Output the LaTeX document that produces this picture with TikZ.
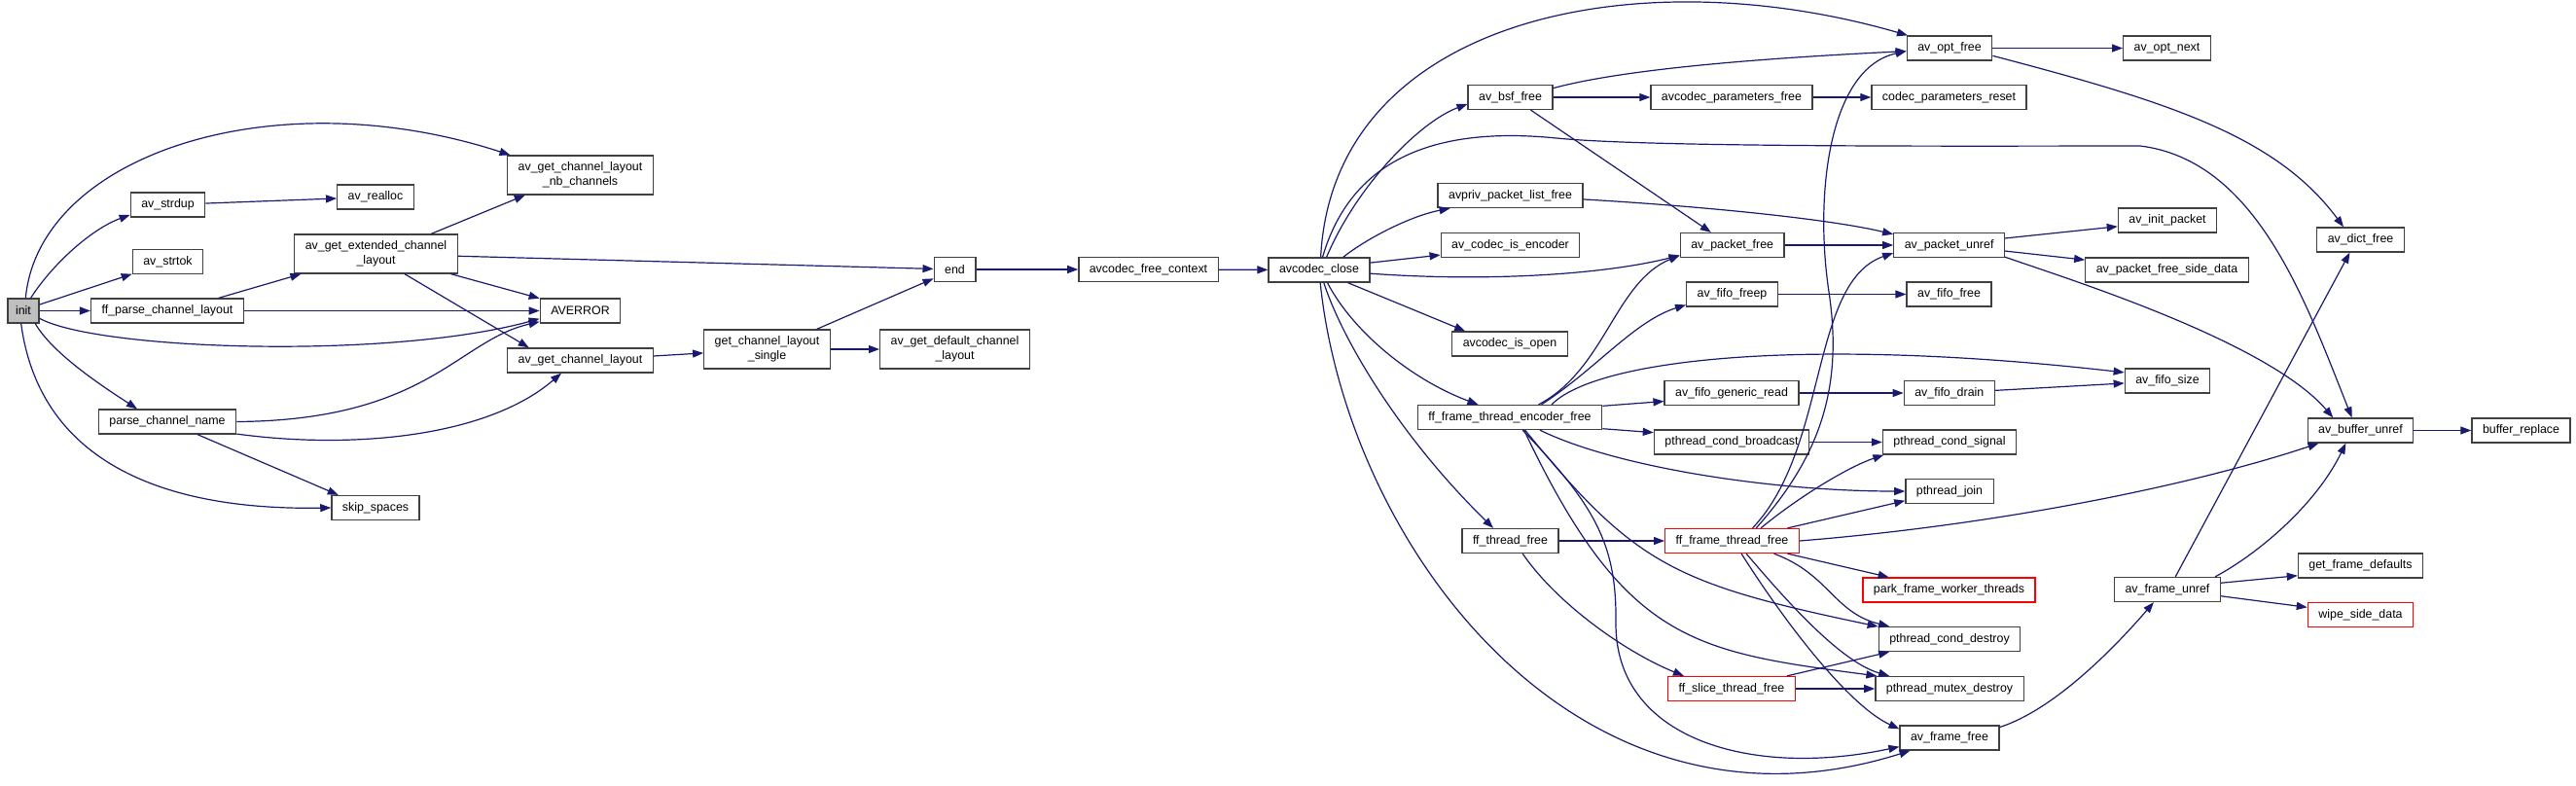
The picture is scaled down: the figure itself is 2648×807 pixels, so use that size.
\documentclass[tikz,border=0pt]{standalone}
\usepackage{fontspec}
\setmainfont{Liberation Sans}
\usetikzlibrary{arrows.meta}
\definecolor{edgeblue}{HTML}{191970}
\definecolor{boxline}{HTML}{404040}
\definecolor{rootgray}{HTML}{BFBFBF}

\begin{document}
\begin{tikzpicture}[
    x=1pt,y=-1pt,
    fn/.style={draw=boxline,line width=1.3pt,fill=white,minimum height=25pt,inner xsep=11pt,inner ysep=1pt,font=\fontsize{12.4}{15}\selectfont},
    fntwo/.style={fn,align=center,minimum height=40pt},
    fnred/.style={fn,draw=red},
    fnroot/.style={fn,fill=rootgray,inner xsep=8pt},
    call/.style={->,draw=edgeblue,line width=1.2pt},
    >={Triangle[length=11pt,width=8pt]}
]
\useasboundingbox (0,0) rectangle (2648,807);

% left part
\node[fnroot] (init) at (24,319.5) {init};
\node[fn] (strdup) at (172.5,210.5) {av\_strdup};
\node[fn] (strtok) at (172.5,269) {av\_strtok};
\node[fn] (parselayout) at (172,319.5) {ff\_parse\_channel\_layout};
\node[fn] (parsename) at (172,433.5) {parse\_channel\_name};
\node[fn] (realloc) at (386,202.5) {av\_realloc};
\node[fntwo] (extlayout) at (386.5,261) {av\_get\_extended\_channel\\\_layout};
\node[fn] (skipspaces) at (386,522) {skip\_spaces};
\node[fntwo] (nbchannels) at (596.5,180) {av\_get\_channel\_layout\\\_nb\_channels};
\node[fn] (averror) at (596.5,319.5) {AVERROR};
\node[fn] (getlayout) at (596.5,370.5) {av\_get\_channel\_layout};
\node[fntwo] (layoutsingle) at (788.5,359) {get\_channel\_layout\\\_single};
\node[fn] (endnode) at (981.5,277) {end};
\node[fntwo] (defaultlayout) at (981.5,359) {av\_get\_default\_channel\\\_layout};
\node[fn] (freecontext) at (1180.5,277) {avcodec\_free\_context};
\node[fn] (codecclose) at (1356,277.5) {avcodec\_close};

% middle part
\node[fn] (bsffree) at (1552.5,100) {av\_bsf\_free};
\node[fn] (pktlistfree) at (1552.5,201) {avpriv\_packet\_list\_free};
\node[fn] (isencoder) at (1552.5,252) {av\_codec\_is\_encoder};
\node[fn] (isopen) at (1552,353.5) {avcodec\_is\_open};
\node[fn] (encfree) at (1552,429) {ff\_frame\_thread\_encoder\_free};
\node[fn] (threadfree) at (1552.5,556) {ff\_thread\_free};
\node[fn] (parfree) at (1780,100) {avcodec\_parameters\_free};
\node[fn] (pktfree) at (1780.7,252) {av\_packet\_free};
\node[fn] (fifofreep) at (1780.5,302.5) {av\_fifo\_freep};
\node[fn] (fiforead) at (1780,404) {av\_fifo\_generic\_read};
\node[fn] (condbcast) at (1780,454.5) {pthread\_cond\_broadcast};
\node[fnred] (framethreadfree) at (1780.5,556) {ff\_frame\_thread\_free};
\node[fnred] (slicefree) at (1780,708) {ff\_slice\_thread\_free};
\node[fn] (optfree) at (2004,49.5) {av\_opt\_free};
\node[fn] (parreset) at (2003.5,100) {codec\_parameters\_reset};
\node[fn] (pktunref) at (2003.6,252) {av\_packet\_unref};
\node[fn] (fifofree) at (2003.5,302.5) {av\_fifo\_free};
\node[fn] (fifodrain) at (2003.8,404) {av\_fifo\_drain};
\node[fn] (condsignal) at (2004,454.5) {pthread\_cond\_signal};
\node[fn] (join) at (2004,505) {pthread\_join};
\node[fnred] (parkworkers) at (2003.5,606.5) {park\_frame\_worker\_threads};
\node[fn] (conddestroy) at (2004,657) {pthread\_cond\_destroy};
\node[fn] (mutexdestroy) at (2004,708) {pthread\_mutex\_destroy};
\node[fn] (framefree) at (2004,758.5) {av\_frame\_free};

% right part
\node[fn] (optnext) at (2227.5,49.5) {av\_opt\_next};
\node[fn] (initpacket) at (2228,226.5) {av\_init\_packet};
\node[fn] (sidedatafree) at (2227.5,277.5) {av\_packet\_free\_side\_data};
\node[fn] (fifosize) at (2228,391.5) {av\_fifo\_size};
\node[fn] (frameunref) at (2228,606) {av\_frame\_unref};
\node[fn] (dictfree) at (2426.5,246.5) {av\_dict\_free};
\node[fn] (bufunref) at (2426.5,442.5) {av\_buffer\_unref};
\node[fn] (framedefaults) at (2426.5,581.5) {get\_frame\_defaults};
\node[fnred] (wipeside) at (2426.5,632) {wipe\_side\_data};
\node[fn] (bufreplace) at (2591.5,442.5) {buffer\_replace};

\draw[call] (init.80) .. controls (40,160) and (280,80) .. (nbchannels.164);
\draw[call] (init.60) .. controls (55,270) and (95,235) .. (strdup.195);
\draw[call] (init.21) -- (strtok.199);
\draw[call] (init) -- (parselayout);
\draw[call] (init.335) .. controls (100,360) and (400,370) .. (averror.191);
\draw[call] (init.313) .. controls (55,365) and (110,400) .. (parsename.157);
\draw[call] (init.260) .. controls (40,470) and (160,525) .. (skipspaces.west);
\draw[call] (strdup) -- (realloc);
\draw[call] (parselayout.14) -- (extlayout.195);
\draw[call] (parselayout) -- (averror);
\draw[call] (extlayout.20) -- (nbchannels.200);
\draw[call] (extlayout) -- (endnode);
\draw[call] (extlayout.345) -- (averror.163);
\draw[call] (extlayout.325) -- (getlayout.166);
\draw[call] (parsename.east) .. controls (440,432) and (470,350) .. (averror.195);
\draw[call] (parsename.350) .. controls (360,462) and (500,450) .. (getlayout.214);
\draw[call] (parsename.337) -- (skipspaces.161);
\draw[call] (getlayout) -- (layoutsingle);
\draw[call] (layoutsingle.22) -- (endnode.203);
\draw[call] (layoutsingle) -- (defaultlayout);
\draw[call] (endnode) -- (freecontext);
\draw[call] (freecontext) -- (codecclose);

\draw[call] (codecclose.83) .. controls (1370,20) and (1680,-45) .. (optfree.163);
\draw[call] (codecclose.60) .. controls (1395,190) and (1460,125) .. (bsffree.189);
\draw[call] (codecclose.75) .. controls (1390,160) and (1480,130) .. (1600,142)
    .. controls (1700,152) and (2050,150) .. (2200,150)
    .. controls (2320,165) and (2370,310) .. (bufunref.124);
\draw[call] (codecclose.28) .. controls (1405,245) and (1450,222) .. (pktlistfree.192);
\draw[call] (codecclose.8) -- (isencoder.188);
\draw[call] (codecclose.356) .. controls (1530,290) and (1650,282) .. (pktfree.191);
\draw[call] (codecclose.336) -- (isopen.164);
\draw[call] (codecclose.303) .. controls (1390,340) and (1450,390) .. (encfree.158);
\draw[call] (codecclose.290) .. controls (1380,350) and (1440,450) .. (threadfree.143);
\draw[call] (codecclose.275) .. controls (1385,560) and (1620,880) .. (framefree.198);

\draw[call] (bsffree.12) .. controls (1680,68) and (1850,58) .. (optfree.184);
\draw[call] (bsffree) -- (parfree);
\draw[call] (bsffree.328) -- (pktfree.149);
\draw[call] (parfree) -- (parreset);
\draw[call] (optfree) -- (optnext);
\draw[call] (optfree.350) .. controls (2230,105) and (2340,140) .. (dictfree.143);
\draw[call] (pktlistfree.357) .. controls (1750,212) and (1880,225) .. (pktunref.169);
\draw[call] (pktfree) -- (pktunref);
\draw[call] (fifofreep) -- (fifofree);
\draw[call] (fiforead) -- (fifodrain);
\draw[call] (fifodrain) -- (fifosize);
\draw[call] (condbcast) -- (condsignal);

\draw[call] (encfree.17) .. controls (1640,370) and (1850,345) .. (fifosize.169);
\draw[call] (encfree.24) .. controls (1650,380) and (1660,290) .. (pktfree.191);
\draw[call] (encfree.22) .. controls (1640,380) and (1680,330) .. (fifofreep.193);
\draw[call] (encfree.7) -- (fiforead.187);
\draw[call] (encfree.353) -- (condbcast.173);
\draw[call] (encfree.337) .. controls (1660,480) and (1820,505) .. (join.west);
\draw[call] (encfree.320) .. controls (1680,580) and (1720,600) .. (conddestroy.170);
\draw[call] (encfree.318) .. controls (1670,660) and (1740,670) .. (mutexdestroy.170);
\draw[call] (encfree.315) .. controls (1640,520) and (1662,560) .. (1661,640)
    .. controls (1660,760) and (1800,800) .. (framefree.190);

\draw[call] (threadfree) -- (framethreadfree);
\draw[call] (threadfree.314) .. controls (1600,620) and (1670,670) .. (slicefree.165);

\draw[call] (framethreadfree.28) .. controls (1870,470) and (1895,400) .. (1880,300)
    .. controls (1865,200) and (1880,70) .. (optfree.184);
\draw[call] (framethreadfree.32) .. controls (1880,460) and (1860,290) .. (pktunref.188);
\draw[call] (framethreadfree.24) .. controls (1850,510) and (1900,480) .. (condsignal.191);
\draw[call] (framethreadfree.13) -- (join.192);
\draw[call] (framethreadfree.east) .. controls (2050,540) and (2250,500) .. (bufunref.197);
\draw[call] (framethreadfree.347) -- (parkworkers.168);
\draw[call] (framethreadfree.343) .. controls (1880,590) and (1885,630) .. (conddestroy.168);
\draw[call] (framethreadfree.318) .. controls (1830,610) and (1890,680) .. (mutexdestroy.168);
\draw[call] (framethreadfree.306) .. controls (1835,640) and (1900,725) .. (framefree.170);
\draw[call] (slicefree.13) -- (conddestroy.192);
\draw[call] (slicefree) -- (mutexdestroy);

\draw[call] (pktunref.7) -- (initpacket.187);
\draw[call] (pktunref.354) -- (sidedatafree.173);
\draw[call] (pktunref.348) .. controls (2120,285) and (2330,350) .. (bufunref.155);
\draw[call] (bufunref) -- (bufreplace);
\draw[call] (framefree.12) .. controls (2110,730) and (2170,670) .. (frameunref.223);
\draw[call] (frameunref.58) -- (dictfree.230);
\draw[call] (frameunref.15) .. controls (2320,570) and (2380,520) .. (bufunref.221);
\draw[call] (frameunref.7) -- (framedefaults.189);
\draw[call] (frameunref.353) -- (wipeside.172);
\end{tikzpicture}
\end{document}
